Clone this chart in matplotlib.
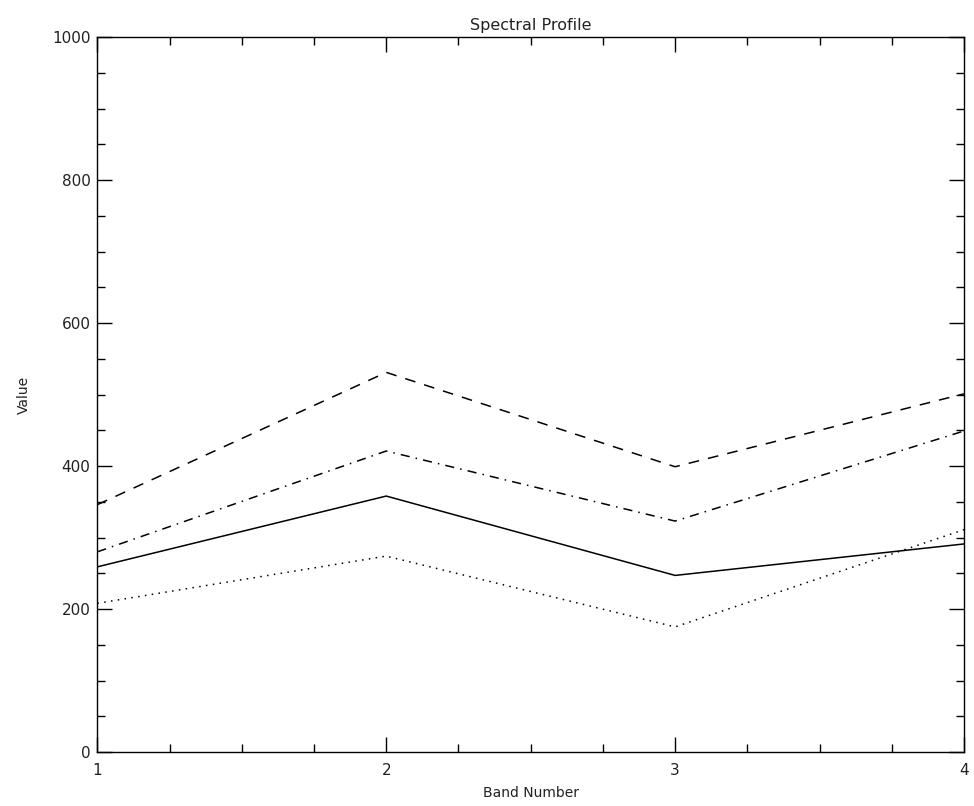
import matplotlib
matplotlib.use("Agg")
import matplotlib.pyplot as plt
from matplotlib.ticker import MultipleLocator

bands = [1, 2, 3, 4]
dashed_vals = [346, 531, 399, 501]
dashdot_vals = [280, 421, 323, 449]
solid_vals = [259, 358, 247, 291]
dotted_vals = [208, 274, 175, 311]

fig = plt.figure(figsize=(9.74, 8.06), dpi=100)
ax = fig.add_axes([0.1, 0.067, 0.8897, 0.887])

lw = 1.1
ax.plot(bands, dashed_vals, color="black", lw=lw, dashes=(7, 6))
ax.plot(bands, dashdot_vals, color="black", lw=lw, dashes=(6, 4, 1, 4))
ax.plot(bands, solid_vals, color="black", lw=lw)
ax.plot(bands, dotted_vals, color="black", lw=lw, dashes=(1, 3.5))

ax.set_xlim(1, 4)
ax.set_ylim(0, 1000)
ax.xaxis.set_major_locator(MultipleLocator(1))
ax.xaxis.set_minor_locator(MultipleLocator(0.25))
ax.yaxis.set_major_locator(MultipleLocator(200))
ax.yaxis.set_minor_locator(MultipleLocator(50))

ax.tick_params(which="both", direction="in", top=True, right=True,
               width=1.0, labelsize=11, labelcolor="#222222")
ax.tick_params(which="major", length=11)
ax.tick_params(which="minor", length=6)
ax.tick_params(axis="x", pad=8)
ax.tick_params(axis="y", pad=5)
for s in ax.spines.values():
    s.set_linewidth(1.0)

ax.set_title("Spectral Profile", fontsize=11.5, pad=5, color="#222222")
ax.set_xlabel("Band Number", fontsize=10, labelpad=6, color="#222222")
ax.set_ylabel("Value", fontsize=10, labelpad=15, color="#222222")

fig.savefig("out.png", dpi=100)
